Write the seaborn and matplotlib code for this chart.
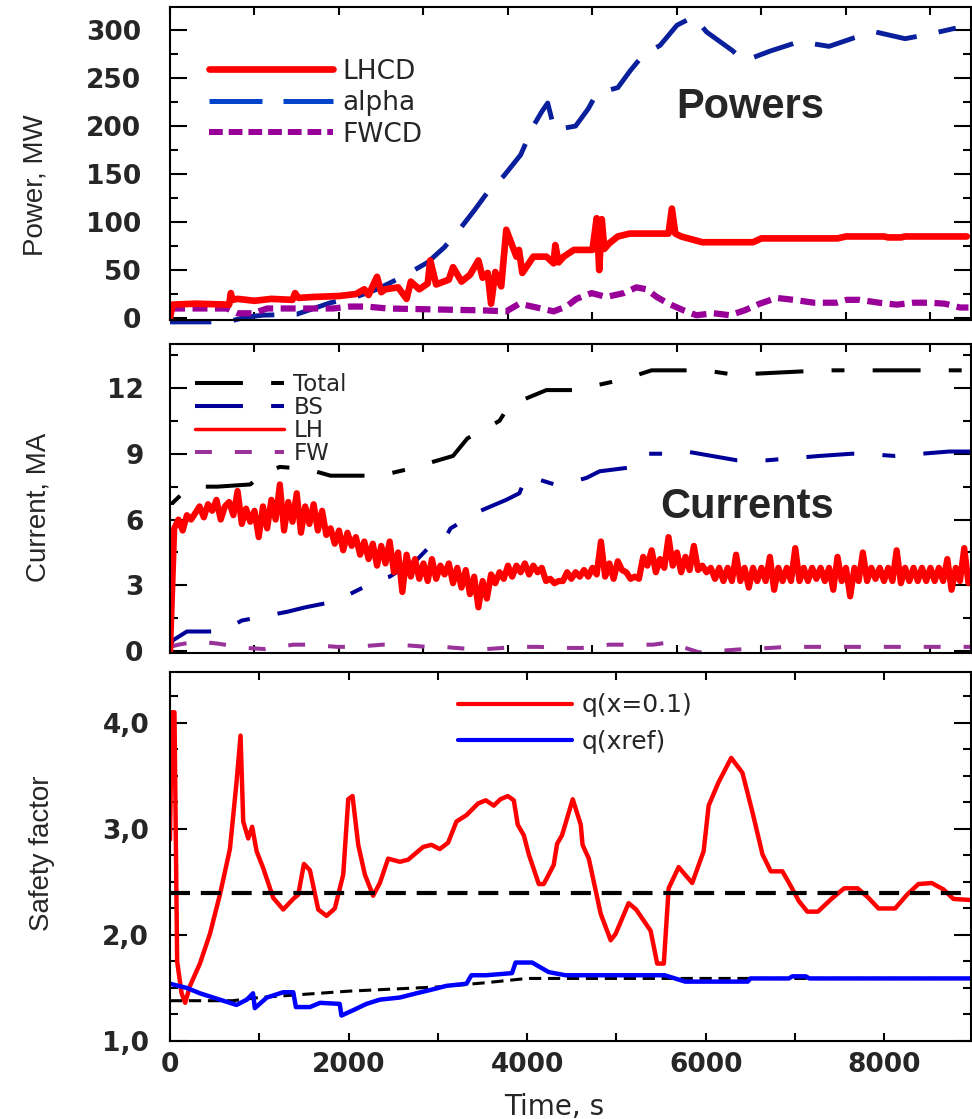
import numpy as np
import matplotlib
matplotlib.use('Agg')
import matplotlib.pyplot as plt
from matplotlib.lines import Line2D
from matplotlib.ticker import MultipleLocator
import seaborn as sns

# ---------------- data: Powers panel ----------------
lhcd_t = [0, 30, 300, 700, 720, 740, 800, 1000, 1200, 1450, 1480, 1520, 1700, 2000, 2200,
          2300, 2350, 2450, 2500, 2550, 2700, 2800, 2850, 2950, 3050, 3080, 3150, 3300, 3350, 3450,
          3550, 3650, 3700, 3760, 3800, 3850, 3920, 3980, 4100, 4130, 4170, 4300, 4455, 4540, 4560,
          4600, 4660, 4780, 4900, 5000, 5050, 5080, 5110, 5140, 5200, 5300, 5440, 5900, 5940, 5980,
          6050, 6300, 6900, 7000, 7900, 8000, 8450, 8500, 8650, 8700, 9430]
lhcd_p = [0, 14, 15, 14, 26, 19, 20, 18, 20, 19, 26, 21, 22, 23, 25,
          30, 24, 43, 27, 30, 32, 20, 38, 30, 36, 60, 35, 40, 53, 38,
          45, 60, 42, 47, 15, 48, 33, 92, 64, 71, 47, 64, 64, 57, 76,
          58, 64, 71, 71, 71, 104, 50, 103, 72, 78, 85, 88, 88, 114, 88,
          85, 79, 79, 83, 83, 85, 85, 84, 84, 85, 85]

alpha_t = [0, 300, 675, 900, 1100, 1500, 1900, 2200, 2450, 2750, 3050, 3250, 3450, 3600, 3750,
           3950, 4150, 4300, 4400, 4470, 4550, 4800, 4950, 5050, 5300, 5450, 5600, 5800, 6000, 6200,
           6350, 6650, 6800, 7100, 7450, 7800, 8100, 8350, 8700, 9000, 9300]
alpha_p = [-4, -4, -4, 1, 3, 4, 16, 22, 30, 43, 58, 74, 95, 112, 130,
           148, 170, 200, 215, 224, 196, 200, 218, 234, 240, 258, 274, 284, 305, 314,
           298, 279, 268, 278, 288, 283, 292, 298, 291, 296, 302]

fwcd_t = [0, 675, 800, 985, 1150, 1930, 2130, 2330, 2570, 3710, 3980, 4135, 4340, 4540, 4690,
          4810, 4990, 5165, 5370, 5520, 5640, 5760, 5900, 6080, 6230, 6435, 6625, 6800, 6980, 7180,
          7380, 7620, 7890, 8010, 8165, 8390, 8600, 8800, 8995, 9170, 9350, 9450]
fwcd_p = [10, 10, 5, 5, 10, 10, 12, 12, 10, 8, 7, 15, 11, 7, 12,
          20, 26, 22, 26, 32, 30, 22, 15, 8, 3, 5, 3, 8, 15, 21,
          19, 16, 16, 19, 19, 16, 14, 16, 16, 15, 11, 11]

# ---------------- data: Currents panel ----------------
total_t = [0, 15, 150, 320, 560, 950, 1100, 1300, 1625, 1900, 2490, 2820, 3350, 3520, 3760,
           3900, 4015, 4455, 4790, 5380, 5700, 6330, 6680, 7740, 8070, 9480]
total_i = [3.2, 6.7, 7.2, 7.5, 7.5, 7.6, 8.1, 8.4, 8.3, 8.0, 8.0, 8.3, 8.9, 9.7, 10.2,
           10.5, 11.2, 11.9, 11.9, 12.4, 12.8, 12.8, 12.6, 12.8, 12.8, 12.8]

bs_t = [0, 35, 200, 510, 710, 850, 1390, 1600, 1860, 2075, 2490, 2600, 2930, 3080, 3235,
        3320, 3675, 3980, 4135, 4220, 4550, 4750, 4930, 5085, 5500, 5640, 5880, 6115, 6710, 7060,
        7690, 8070, 8210, 8570, 9220, 9480]
bs_i = [0.2, 0.5, 0.9, 0.9, 1.1, 1.4, 1.8, 2.0, 2.2, 2.5, 3.3, 3.4, 4.2, 4.8, 5.0,
        5.6, 6.4, 6.9, 7.2, 8.0, 7.6, 7.7, 7.9, 8.2, 8.4, 9.0, 9.0, 9.1, 8.7, 8.7,
        8.9, 9.0, 9.0, 8.9, 9.1, 9.1]

fw_t = [0, 100, 320, 560, 900, 1125, 1460, 1625, 1980, 2180, 2520, 2700, 3040, 3230, 3550,
        3750, 4120, 4360, 4660, 4870, 5200, 5380, 5720, 5900, 6260, 6435, 6800, 7100, 7300, 7650,
        7900, 8200, 8500, 8850, 9200, 9480]
fw_i = [0.2, 0.3, 0.45, 0.35, 0.15, 0.1, 0.3, 0.3, 0.2, 0.2, 0.3, 0.3, 0.2, 0.2, 0.1,
        0.1, 0.2, 0.2, 0.15, 0.15, 0.3, 0.3, 0.3, 0.4, -0.05, 0.0, 0.1, 0.15, 0.2, 0.2,
        0.2, 0.2, 0.2, 0.2, 0.2, 0.2]

lh_step = 50  # s, sampling of the LH current trace
lh_i = [-0.1, 5.6, 6.0, 5.5, 6.2, 6.0, 6.3, 6.6, 6.1, 6.7,
        6.4, 6.9, 6.0, 6.6, 6.8, 6.2, 7.3, 5.8, 6.5, 5.9,
        6.4, 5.2, 6.6, 5.6, 6.9, 6.0, 7.6, 5.5, 6.8, 5.9,
        7.2, 5.4, 6.6, 5.8, 6.7, 5.5, 6.4, 5.3, 5.6, 4.9,
        5.5, 4.6, 5.4, 4.8, 5.2, 4.4, 5.0, 4.2, 4.9, 3.9,
        4.8, 4.0, 5.0, 3.6, 4.5, 2.7, 4.4, 3.4, 4.2, 3.3,
        4.0, 3.2, 4.2, 3.3, 3.9, 3.5, 4.0, 3.1, 3.8, 2.9,
        3.7, 2.6, 3.4, 2.0, 3.2, 2.4, 3.5, 3.1, 3.6, 3.3,
        3.9, 3.4, 3.9, 3.6, 4.0, 3.5, 3.9, 3.6, 3.8, 3.2,
        3.3, 3.1, 3.2, 3.2, 3.6, 3.3, 3.6, 3.4, 3.7, 3.4,
        3.8, 3.5, 5.0, 3.4, 4.0, 3.3, 4.1, 3.7, 3.6, 3.3,
        3.4, 3.3, 4.3, 3.9, 4.6, 3.6, 4.2, 3.8, 5.2, 3.9,
        4.5, 3.6, 4.3, 3.7, 4.8, 3.7, 3.9, 3.6, 3.8, 3.3,
        3.8, 3.2, 3.8, 3.2, 4.4, 3.2, 3.8, 2.9, 3.8, 3.2,
        3.8, 3.2, 4.3, 2.8, 3.8, 3.2, 3.8, 3.2, 4.7, 3.2,
        3.8, 3.2, 3.8, 3.3, 3.8, 3.2, 3.8, 2.8, 4.3, 3.2,
        3.8, 2.5, 3.8, 3.2, 4.5, 3.2, 3.8, 3.3, 3.8, 3.2,
        3.8, 3.2, 4.6, 3.1, 3.8, 3.2, 3.8, 3.2, 3.8, 3.2,
        3.8, 3.2, 3.8, 3.2, 4.2, 2.8, 3.8, 3.2, 4.7, 3.1]

# ---------------- data: Safety factor panel ----------------
q01_t = [0, 20, 50, 80, 130, 170, 224, 335, 447, 559, 671, 745, 790, 820, 876, 920, 970, 1044,
         1156, 1268, 1380, 1436, 1500, 1567, 1660, 1753, 1846, 1940, 1996, 2044, 2108, 2182, 2275,
         2350, 2443, 2574, 2667, 2835, 2928, 3021, 3114, 3208, 3320, 3450, 3536, 3626, 3700, 3783,
         3850, 3894, 3962, 4018, 4130, 4185, 4297, 4335, 4390, 4510, 4600, 4620, 4690, 4823, 4935,
         4990, 5136, 5220, 5382, 5456, 5530, 5584, 5696, 5848, 5976, 6032, 6143, 6285, 6410, 6522,
         6635, 6728, 6858, 6933, 7042, 7137, 7255, 7420, 7550, 7700, 7822, 7934, 8120, 8254, 8381,
         8530, 8661, 8773, 8960]
q01_v = [2.9, 4.1, 4.1, 1.75, 1.45, 1.36, 1.52, 1.73, 2.01, 2.38, 2.81, 3.44, 3.88, 3.07, 2.91,
         3.02, 2.79, 2.63, 2.35, 2.24, 2.34, 2.38, 2.67, 2.61, 2.24, 2.18, 2.25, 2.57, 3.28, 3.31,
         2.85, 2.57, 2.37, 2.49, 2.72, 2.69, 2.71, 2.83, 2.85, 2.81, 2.87, 3.07, 3.13, 3.24, 3.27,
         3.22, 3.28, 3.31, 3.27, 3.04, 2.94, 2.76, 2.48, 2.48, 2.66, 2.86, 2.94, 3.28, 3.04, 2.85,
         2.72, 2.20, 1.95, 2.01, 2.30, 2.24, 2.04, 1.73, 1.73, 2.44, 2.64, 2.49, 2.79, 3.22, 3.44,
         3.67, 3.53, 3.16, 2.76, 2.60, 2.60, 2.49, 2.32, 2.22, 2.22, 2.35, 2.44, 2.44, 2.35, 2.25,
         2.25, 2.38, 2.48, 2.49, 2.43, 2.34, 2.33]

qxref_t = [0, 190, 335, 520, 745, 860, 930, 950, 1085, 1268, 1380, 1410, 1567, 1680, 1900,
           1920, 2050, 2200, 2350, 2574, 2760, 2910, 3096, 3320, 3375, 3536, 3830, 3870, 4055, 4240,
           4430, 4650, 5540, 5770, 6470, 6500, 6930, 6970, 7120, 7160, 8970]
qxref_v = [1.54, 1.50, 1.45, 1.40, 1.34, 1.39, 1.45, 1.31, 1.41, 1.46, 1.46, 1.32, 1.32, 1.36, 1.35,
           1.24, 1.29, 1.35, 1.39, 1.41, 1.45, 1.48, 1.52, 1.54, 1.62, 1.62, 1.64, 1.74, 1.74, 1.65,
           1.62, 1.62, 1.62, 1.56, 1.56, 1.59, 1.59, 1.61, 1.61, 1.59, 1.59]

qtarget_t = [0, 700, 1000, 2000, 3000, 3540, 4000, 9000]
qtarget_v = [1.38, 1.38, 1.41, 1.47, 1.51, 1.55, 1.59, 1.59]
q_limit = 2.4

power_ticks = [0, 50, 100, 150, 200, 250, 300]
current_ticks = [0, 3, 6, 9, 12]
q_ticks = [1.0, 2.0, 3.0, 4.0]
q_tick_labels = ['1,0', '2,0', '3,0', '4,0']
time_ticks = [0, 2000, 4000, 6000, 8000]

# ---------------- style ----------------
sns.set_theme(style='ticks')
plt.rcParams['font.family'] = ['DejaVu Sans']
plt.rcParams['axes.linewidth'] = 1.5

RED = '#ff0000'
ALPHA_C = '#0a1f9c'
ALPHA_LEG = '#0044cc'
PURPLE = '#990099'
NAVY = '#000099'
FWPURPLE = '#993399'
BLUE = '#0000ff'

W, H = 972, 1119
fig = plt.figure(figsize=(W / 100, H / 100), dpi=100)
L, R = 170 / W, 971 / W


def fy(py):
    return 1 - py / H


ax1 = fig.add_axes([L, fy(320), R - L, fy(7) - fy(320)])
ax2 = fig.add_axes([L, fy(653), R - L, fy(344) - fy(653)])
ax3 = fig.add_axes([L, fy(1041), R - L, fy(672) - fy(1041)])


def line(ax, x, y, **kw):
    sns.lineplot(x=np.asarray(x, float), y=np.asarray(y, float), ax=ax, sort=False,
                 estimator=None, legend=False, **kw)


# Powers
line(ax1, alpha_t, alpha_p, color=ALPHA_C, linewidth=3.5, linestyle=(0, (8.5, 4.6)), clip_on=False)
line(ax1, fwcd_t, fwcd_p, color=PURPLE, linewidth=4.5, linestyle=(0, (2.4, 1.2)))
line(ax1, lhcd_t, lhcd_p, color=RED, linewidth=4.8)

# Currents
lh_t = np.arange(len(lh_i)) * lh_step
line(ax2, total_t, total_i, color='black', linewidth=2.9, linestyle=(0, (11.9, 7.0, 3.2, 7.0)))
line(ax2, bs_t, bs_i, color=NAVY, linewidth=2.9, linestyle=(0, (11.9, 7.0, 3.2, 7.0)))
line(ax2, fw_t, fw_i, color=FWPURPLE, linewidth=2.9, linestyle=(0, (4.2, 5.7)))
line(ax2, lh_t, lh_i, color=RED, linewidth=4.5)

# Safety factor
ax3.axhline(q_limit, color='black', linewidth=3.0, linestyle=(0, (4.8, 2.6)), zorder=3)
line(ax3, qtarget_t, qtarget_v, color='black', linewidth=2.2, linestyle=(0, (4.0, 2.2)))
line(ax3, q01_t, q01_v, color=RED, linewidth=3.2)
line(ax3, qxref_t, qxref_v, color=BLUE, linewidth=3.2)

# ---------------- axes ----------------
tick_font = dict(fontsize=19, fontweight='bold')
for ax in (ax1, ax2, ax3):
    ax.tick_params(which='both', direction='in', top=True, right=True, width=1.5,
                   color='black')
    ax.tick_params(axis='y', which='major', length=12)
    ax.tick_params(axis='y', which='minor', length=6)
    ax.tick_params(axis='x', which='both', length=6)
    for s in ax.spines.values():
        s.set_linewidth(1.5)
        s.set_color('black')
    ax.set_xlabel('')
    ax.set_ylabel('')

for ax in (ax1, ax2):
    ax.set_xlim(0, 9480)
    ax.xaxis.set_major_locator(MultipleLocator(1000))
    ax.tick_params(axis='x', labelbottom=False)

ax1.set_ylim(-2, 324)
ax1.set_yticks(power_ticks, [str(v) for v in power_ticks], **tick_font)
ax1.yaxis.set_minor_locator(MultipleLocator(25))
ax1.tick_params(axis='y', pad=21)

ax2.set_ylim(-0.08, 14.0)
ax2.set_yticks(current_ticks, [str(v) for v in current_ticks], **tick_font)
ax2.yaxis.set_minor_locator(MultipleLocator(1.5))
ax2.tick_params(axis='y', pad=19)

ax3.set_xlim(0, 8970)
ax3.set_ylim(1.0, 4.48)
ax3.set_xticks(time_ticks, [str(v) for v in time_ticks], **tick_font)
ax3.xaxis.set_minor_locator(MultipleLocator(1000))
ax3.set_yticks(q_ticks, q_tick_labels, **tick_font)
ax3.yaxis.set_minor_locator(MultipleLocator(0.25))
ax3.tick_params(axis='y', pad=15)
ax3.tick_params(axis='x', pad=8)

lab_font = dict(fontsize=20, family=['Liberation Sans', 'DejaVu Sans'])
ax1.set_ylabel('Power, MW', **lab_font)
ax1.yaxis.set_label_coords(-0.152, 0.431)
ax2.set_ylabel('Current, MA', **lab_font)
ax2.yaxis.set_label_coords(-0.148, 0.472)
ax3.set_ylabel('Safety factor', **lab_font)
ax3.yaxis.set_label_coords(-0.144, 0.51)
ax3.set_xlabel('Time, s', fontsize=20)
ax3.xaxis.set_label_coords(0.48, -0.141)

ax1.text(0.725, 0.68, 'Powers', transform=ax1.transAxes, ha='center', va='center',
         fontsize=30, fontweight='bold', family=['Liberation Sans', 'DejaVu Sans'])
ax2.text(0.72, 0.4725, 'Currents', transform=ax2.transAxes, ha='center', va='center',
         fontsize=30, fontweight='bold', family=['Liberation Sans', 'DejaVu Sans'])

# ---------------- legends ----------------
h1 = [Line2D([], [], color=RED, linewidth=4.8),
      Line2D([], [], color=ALPHA_LEG, linewidth=3.6, linestyle=(0, (10.6, 4.2))),
      Line2D([], [], color=PURPLE, linewidth=4.3, linestyle=(0, (2.3, 1.0)))]
ax1.legend(h1, ['LHCD', 'alpha', 'FWCD'], loc='upper left', bbox_to_anchor=(0.049, 0.835),
           frameon=False, fontsize=19, handlelength=4.7, handletextpad=0.34,
           labelspacing=0.21, borderpad=0, borderaxespad=0)

h2 = [Line2D([], [], color='black', linewidth=2.9, linestyle=(0, (11.9, 7.0, 3.2, 7.0))),
      Line2D([], [], color=NAVY, linewidth=2.9, linestyle=(0, (11.9, 7.0, 3.2, 7.0))),
      Line2D([], [], color=RED, linewidth=2.5),
      Line2D([], [], color=FWPURPLE, linewidth=2.9, linestyle=(0, (4.2, 5.7)))]
ax2.legend(h2, ['Total', 'BS', 'LH', 'FW'], loc='upper left', bbox_to_anchor=(0.031, 0.906),
           frameon=False, fontsize=16.5, handlelength=3.9, handletextpad=0.4,
           labelspacing=0.0, borderpad=0, borderaxespad=0)

h3 = [Line2D([], [], color=RED, linewidth=3.0),
      Line2D([], [], color=BLUE, linewidth=3.0)]
ax3.legend(h3, ['q(x=0.1)', 'q(xref)'], loc='upper left', bbox_to_anchor=(0.359, 0.942),
           frameon=False, fontsize=18, handlelength=4.56, handletextpad=0.4,
           labelspacing=0.5, borderpad=0, borderaxespad=0)

fig.savefig('out.png', dpi=100)
